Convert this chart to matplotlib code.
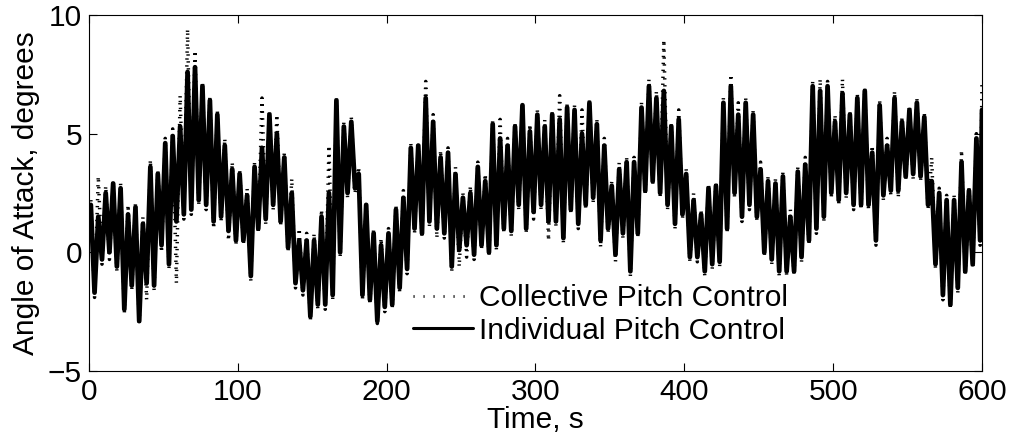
import matplotlib
matplotlib.use("Agg")
import matplotlib.pyplot as plt
import numpy as np

plt.rcParams['font.family'] = ['Liberation Sans', 'DejaVu Sans']

# window start times (s); one high and one low peak read per 5 s window
win_start = list(range(0, 600, 5))

ipc_hi = [2.0, 1.5, 2.5, 2.9, 2.7, 1.6, 1.9, 1.2, 3.6, 3.3,
          4.6, 4.9, 5.3, 7.6, 7.8, 7.0, 6.4, 5.8, 4.5, 3.5,
          3.3, 2.4, 3.6, 4.4, 5.8, 5.0, 4.0, 2.5, 0.5, 0.5,
          0.5, 1.5, 2.5, 6.4, 5.3, 5.5, 3.3, 2.0, 0.8, 0.3,
          0.8, 1.8, 2.3, 4.4, 4.5, 6.5, 5.5, 4.0, 4.2, 3.3,
          2.3, 2.5, 3.6, 3.0, 5.4, 4.8, 4.5, 5.3, 6.2, 5.1,
          5.8, 5.3, 5.8, 5.6, 6.1, 6.0, 5.0, 6.3, 5.4, 4.5,
          2.8, 3.5, 3.8, 3.8, 6.1, 7.0, 6.5, 6.8, 5.3, 5.6,
          3.3, 2.2, 1.6, 2.7, 2.8, 6.3, 7.0, 5.8, 6.3, 5.8,
          3.5, 3.0, 2.9, 3.2, 1.5, 3.4, 3.7, 7.0, 6.8, 7.0,
          5.5, 6.7, 5.8, 6.5, 6.8, 4.2, 6.2, 4.5, 6.5, 5.5,
          6.0, 6.3, 5.7, 3.0, 2.5, 2.2, 2.2, 3.8, 2.6, 4.8]
ipc_lo = [-1.7, -0.3, 0.0, -0.6, -2.4, -1.4, -2.9, -1.3, -1.4, 0.3,
          -0.5, 1.3, 1.6, 1.8, 2.2, 2.0, 1.3, 1.5, 0.9, 0.5,
          0.5, -1.0, 1.0, 1.4, 2.0, 1.3, 0.2, -1.3, -1.6, -2.7,
          -2.2, -2.2, -1.8, 0.0, 2.5, 2.7, -1.8, -2.0, -2.9, -2.3,
          -2.2, -1.5, -0.7, 1.0, 0.8, 1.3, 1.0, 0.8, -0.6, 0.1,
          0.3, -0.1, 0.3, 0.0, 0.3, 1.0, 0.9, 2.0, 1.0, 1.7,
          2.0, 1.3, 1.3, 0.6, 1.8, 1.2, 2.0, 2.3, 0.5, 1.0,
          -0.1, 0.8, -0.8, 0.8, 2.6, 3.0, 2.5, 2.0, 1.2, 1.6,
          -0.2, -0.2, -0.8, -0.5, -0.4, 1.0, 2.5, 1.5, 2.0, 1.5,
          0.0, -0.3, -0.8, -0.8, -0.8, -0.2, 0.5, 1.0, 1.5, 2.5,
          2.2, 2.5, 2.0, 2.0, 2.0, 0.5, 2.4, 2.6, 2.6, 3.2,
          3.3, 3.2, 2.0, -0.5, -1.8, -2.2, -1.5, -0.8, -0.5, 0.5]

cpc_hi = [2.2, 3.2, 2.8, 3.0, 2.9, 2.0, 2.1, 1.5, 3.9, 3.5,
          4.8, 5.2, 6.6, 9.4, 8.5, 7.2, 6.6, 6.0, 4.8, 3.8,
          3.5, 2.7, 3.8, 6.5, 6.0, 5.8, 4.2, 3.1, 1.0, 0.8,
          0.8, 1.8, 4.5, 6.5, 5.5, 5.7, 3.6, 2.1, 1.0, 0.6,
          1.0, 2.0, 2.6, 4.6, 4.6, 7.2, 5.8, 4.3, 4.4, 3.6,
          2.5, 2.8, 3.8, 3.3, 5.6, 5.6, 4.8, 5.5, 6.2, 5.4,
          6.0, 5.6, 6.0, 6.6, 6.3, 6.2, 6.0, 6.4, 5.6, 4.8,
          3.0, 3.8, 4.0, 4.0, 6.3, 7.3, 6.8, 8.95, 5.5, 6.0,
          3.5, 2.5, 1.8, 2.9, 3.0, 6.5, 7.5, 6.3, 6.5, 6.0,
          3.8, 3.2, 3.1, 3.4, 1.8, 3.6, 4.0, 7.2, 7.3, 7.2,
          5.8, 7.3, 6.0, 6.7, 6.9, 4.5, 6.4, 4.8, 6.8, 5.7,
          6.2, 6.5, 5.9, 4.0, 2.7, 2.4, 2.4, 4.3, 2.8, 5.0]
cpc_lo = [-1.9, -0.5, -0.3, -0.8, -2.6, -1.6, -3.0, -2.0, -1.6, 0.0,
          -0.7, -1.3, 1.4, 1.6, 2.0, 1.8, 1.0, 1.3, 0.5, 0.3,
          0.3, -1.2, 0.8, 1.2, 1.8, 1.1, 0.0, -1.5, -1.8, -2.9,
          -2.4, -2.4, -2.0, -0.2, 2.3, 2.5, -2.0, -2.2, -3.0, -2.5,
          -2.4, -1.7, -0.9, 0.8, 0.6, 1.1, 0.6, 0.6, -0.8, -0.6,
          -0.2, -0.3, 0.1, -0.2, 0.1, 0.8, 0.7, 1.8, 0.8, 1.4,
          1.8, 0.5, 1.1, 0.4, 1.6, 1.0, 1.8, 2.1, 0.2, 0.8,
          -0.4, 0.6, -1.0, 0.6, 2.4, 2.8, 2.3, 1.8, 1.0, 1.4,
          -0.4, -0.4, -1.0, -0.7, -0.6, 0.8, 2.3, 1.3, 1.8, 1.3,
          -0.2, -0.5, -1.0, -1.0, -1.0, -0.4, 0.3, 0.8, 1.3, 2.3,
          2.0, 2.3, 1.8, 1.8, 1.8, 0.3, 2.2, 2.4, 2.3, 3.0,
          3.1, 3.0, 1.8, -0.7, -2.0, -2.4, -1.7, -1.0, -0.7, 0.3]

# last reading at t = 600 s, where the trace ends high
t_end = 600.0
ipc_end = 6.0
cpc_end = 7.2


def zigzag(starts, hi, lo, end_value):
    starts = np.asarray(starts, dtype=float)
    t = np.column_stack([starts + 1.25, starts + 3.75]).ravel()
    y = np.column_stack([hi, lo]).ravel()
    return np.append(t, t_end), np.append(y, end_value)


fig = plt.figure(figsize=(10.11, 4.46), dpi=100)
ax = fig.add_axes([0.088, 0.1682, 0.8833, 0.7982])

t_c, y_c = zigzag(win_start, cpc_hi, cpc_lo, cpc_end)
t_i, y_i = zigzag(win_start, ipc_hi, ipc_lo, ipc_end)
ax.plot(t_c, y_c, color='black', lw=2.5, linestyle=(0, (0.4, 1.6)),
        label='Collective Pitch Control')
ax.plot(t_i, y_i, color='black', lw=3.4, solid_joinstyle='round',
        solid_capstyle='round', label='Individual Pitch Control')

ax.set_xlim(0, 600)
ax.set_ylim(-5, 10)
ax.set_xticks(range(0, 601, 100))
ax.set_yticks([-5, 0, 5, 10])
ax.tick_params(direction='in', length=6, width=0.8, labelsize=21.5,
               top=True, right=True, pad=5)
for s in ax.spines.values():
    s.set_linewidth(0.8)

ax.set_xlabel('Time, s', fontsize=21.5, labelpad=0)
ax.set_ylabel('Angle of Attack, degrees', fontsize=21.5, labelpad=6)

leg = ax.legend(loc='lower left', bbox_to_anchor=(0.35, 0.04), frameon=False,
                fontsize=21.5, handlelength=2.0, handletextpad=0.2,
                labelspacing=0.15, borderaxespad=0)
leg.get_lines()[0].set_linewidth(2.0)
leg.get_lines()[0].set_linestyle((0, (0.4, 3.2)))
leg.get_lines()[1].set_linewidth(2.2)

fig.savefig('out.png', dpi=100)
